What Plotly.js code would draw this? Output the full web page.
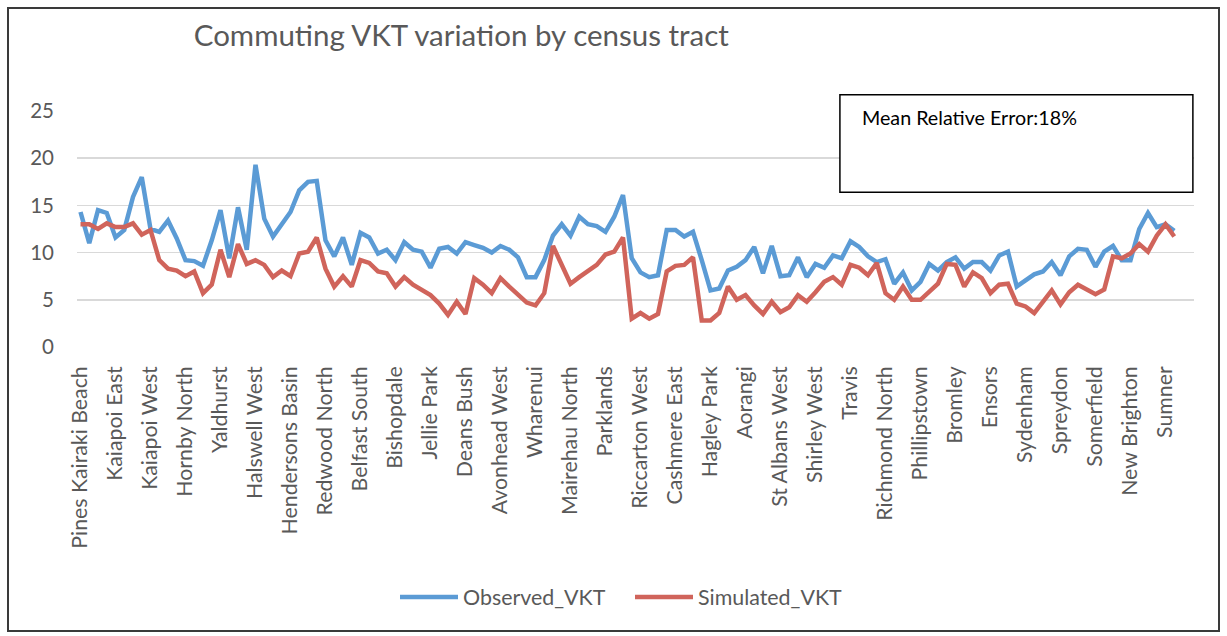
<!DOCTYPE html>
<html>
<head>
<meta charset="utf-8">
<script src="https://cdn.plot.ly/plotly-3.0.1.min.js"></script>
<style>
  html, body { margin: 0; padding: 0; background: #ffffff; }
  #wrap { position: relative; width: 1227px; height: 636px; }
  #chart { position: absolute; left: 0; top: 0; width: 1227px; height: 636px; }
  #frame { position: absolute; left: 7px; top: 7px; width: 1213px; height: 625px;
           border: 2px solid #3a3a3a; box-sizing: border-box; pointer-events: none; }
</style>
</head>
<body>
<div id="wrap">
  <div id="chart"></div>
  <div id="frame"></div>
</div>
<script>
// Labelled census tracts (one label every 4th tract)
const tickLabels = [
  "Pines Kairaki Beach", "Kaiapoi East", "Kaiapoi West", "Hornby North", "Yaldhurst",
  "Halswell West", "Hendersons Basin", "Redwood North", "Belfast South", "Bishopdale",
  "Jellie Park", "Deans Bush", "Avonhead West", "Wharenui", "Mairehau North",
  "Parklands", "Riccarton West", "Cashmere East", "Hagley Park", "Aorangi",
  "St Albans West", "Shirley West", "Travis", "Richmond North", "Phillipstown",
  "Bromley", "Ensors", "Sydenham", "Spreydon", "Somerfield", "New Brighton", "Sumner"
];
const labelStep = 4;

const observedVKT = [
  14.3, 11.0, 14.5, 14.2, 11.6, 12.4, 15.9, 18.0, 12.5, 12.2,
  13.4, 11.5, 9.2, 9.1, 8.6, 11.3, 14.5, 9.4, 14.8, 10.3,
  19.3, 13.6, 11.7, 13.1, 14.3, 16.6, 17.5, 17.6, 11.3, 9.6,
  11.6, 8.7, 12.1, 11.6, 9.9, 10.3, 9.2, 11.1, 10.3, 10.1,
  8.4, 10.4, 10.6, 9.9, 11.1, 10.8, 10.5, 10.0, 10.7, 10.3,
  9.5, 7.4, 7.4, 9.2, 11.8, 13.0, 11.8, 13.8, 13.0, 12.8,
  12.2, 13.8, 16.1, 9.4, 7.9, 7.4, 7.6, 12.4, 12.4, 11.7,
  12.2, 9.2, 6.0, 6.2, 8.1, 8.5, 9.2, 10.6, 7.8, 10.7,
  7.5, 7.6, 9.5, 7.4, 8.8, 8.4, 9.7, 9.4, 11.2, 10.6,
  9.6, 9.0, 9.3, 6.7, 7.9, 6.0, 6.9, 8.8, 8.1, 9.0,
  9.5, 8.3, 9.0, 9.0, 8.1, 9.7, 10.1, 6.4, 7.1, 7.7,
  8.0, 9.0, 7.6, 9.6, 10.4, 10.3, 8.5, 10.1, 10.7, 9.2,
  9.2, 12.5, 14.2, 12.7, 13.0, 12.3
];

const simulatedVKT = [
  13.0, 13.0, 12.5, 13.1, 12.7, 12.7, 13.1, 11.9, 12.4, 9.2,
  8.3, 8.1, 7.5, 8.0, 5.7, 6.6, 10.3, 7.4, 10.9, 8.8,
  9.2, 8.7, 7.4, 8.1, 7.5, 9.9, 10.1, 11.6, 8.3, 6.4,
  7.5, 6.4, 9.2, 8.9, 8.0, 7.8, 6.4, 7.4, 6.6, 6.1,
  5.5, 4.6, 3.4, 4.8, 3.5, 7.3, 6.6, 5.7, 7.3, 6.4,
  5.6, 4.7, 4.4, 5.7, 10.7, 8.7, 6.7, 7.4, 8.1, 8.7,
  9.8, 10.1, 11.6, 3.0, 3.6, 3.0, 3.5, 8.0, 8.6, 8.7,
  9.5, 2.8, 2.8, 3.6, 6.4, 5.0, 5.5, 4.4, 3.5, 4.8,
  3.7, 4.2, 5.5, 4.8, 5.8, 6.9, 7.4, 6.6, 8.7, 8.4,
  7.6, 8.9, 5.7, 5.0, 6.4, 5.0, 5.0, 5.8, 6.7, 8.8,
  8.7, 6.4, 7.9, 7.3, 5.7, 6.6, 6.7, 4.6, 4.3, 3.6,
  4.8, 6.0, 4.5, 5.8, 6.6, 6.1, 5.6, 6.1, 9.6, 9.4,
  9.9, 10.9, 10.1, 11.8, 13.0, 11.7
];

const yTicks = [0, 5, 10, 15, 20, 25];
const chartTitle = "Commuting VKT variation by census tract";
const noteText = "Mean Relative Error:18%";

const xIndex = observedVKT.map((_, i) => i);
const tickVals = tickLabels.map((_, i) => i * labelStep);

const FONT = "Lato, 'Open Sans', sans-serif";
const GREY = "#595959";

const traces = [
  {
    x: xIndex, y: observedVKT, name: "Observed_VKT", type: "scatter", mode: "lines",
    line: { color: "#5B9BD5", width: 4.5, shape: "linear" }
  },
  {
    x: xIndex, y: simulatedVKT, name: "Simulated_VKT", type: "scatter", mode: "lines",
    line: { color: "#D0645B", width: 4.5, shape: "linear" }
  }
];

const layout = {
  width: 1227, height: 636,
  margin: { l: 77, r: 33, t: 110.5, b: 289, pad: 0 },
  paper_bgcolor: "#ffffff", plot_bgcolor: "#ffffff",
  font: { family: FONT, color: GREY, size: 19 },
  title: {
    text: chartTitle, font: { family: FONT, size: 29.5, color: GREY },
    xref: "container", yref: "container", x: 0.376, xanchor: "center",
    y: 0.944, yanchor: "middle"
  },
  xaxis: {
    range: [-0.4, 127.26], tickmode: "array", tickvals: tickVals, ticktext: tickLabels,
    tickangle: -90, showgrid: false, zeroline: false, showline: false, ticks: "",
    tickfont: { family: FONT, size: 21.3, color: GREY }, ticklabelstandoff: 14,
    fixedrange: true
  },
  yaxis: {
    range: [0, 25], tickmode: "array", tickvals: yTicks,
    showgrid: true, gridcolor: "#D9D9D9", gridwidth: 1.5, zeroline: false, showline: false,
    ticks: "", tickfont: { family: FONT, size: 20.5, color: GREY }, ticklabelstandoff: 22,
    fixedrange: true
  },
  showlegend: true,
  legend: {
    orientation: "h", xref: "container", yref: "container",
    x: 395 / 1227, xanchor: "left", y: 0.061, yanchor: "middle",
    font: { family: FONT, size: 21.4, color: GREY }, itemwidth: 58,
    entrywidth: 162, entrywidthmode: "pixels", tracegroupgap: 0
  },
  shapes: [
    { type: "rect", xref: "paper", yref: "paper", x0: 0.683, x1: 0.999, y0: 0.6554, y1: 1.0685,
      line: { color: "#000000", width: 1.5 }, fillcolor: "#ffffff", layer: "above" }
  ],
  annotations: [
    { text: noteText, xref: "paper", yref: "paper", x: 0.701, y: 0.9725,
      xanchor: "left", yanchor: "middle", showarrow: false,
      font: { family: FONT, size: 19.7, color: "#000000" } }
  ]
};

Plotly.newPlot("chart", traces, layout, { displayModeBar: false, staticPlot: true });
</script>
</body>
</html>
